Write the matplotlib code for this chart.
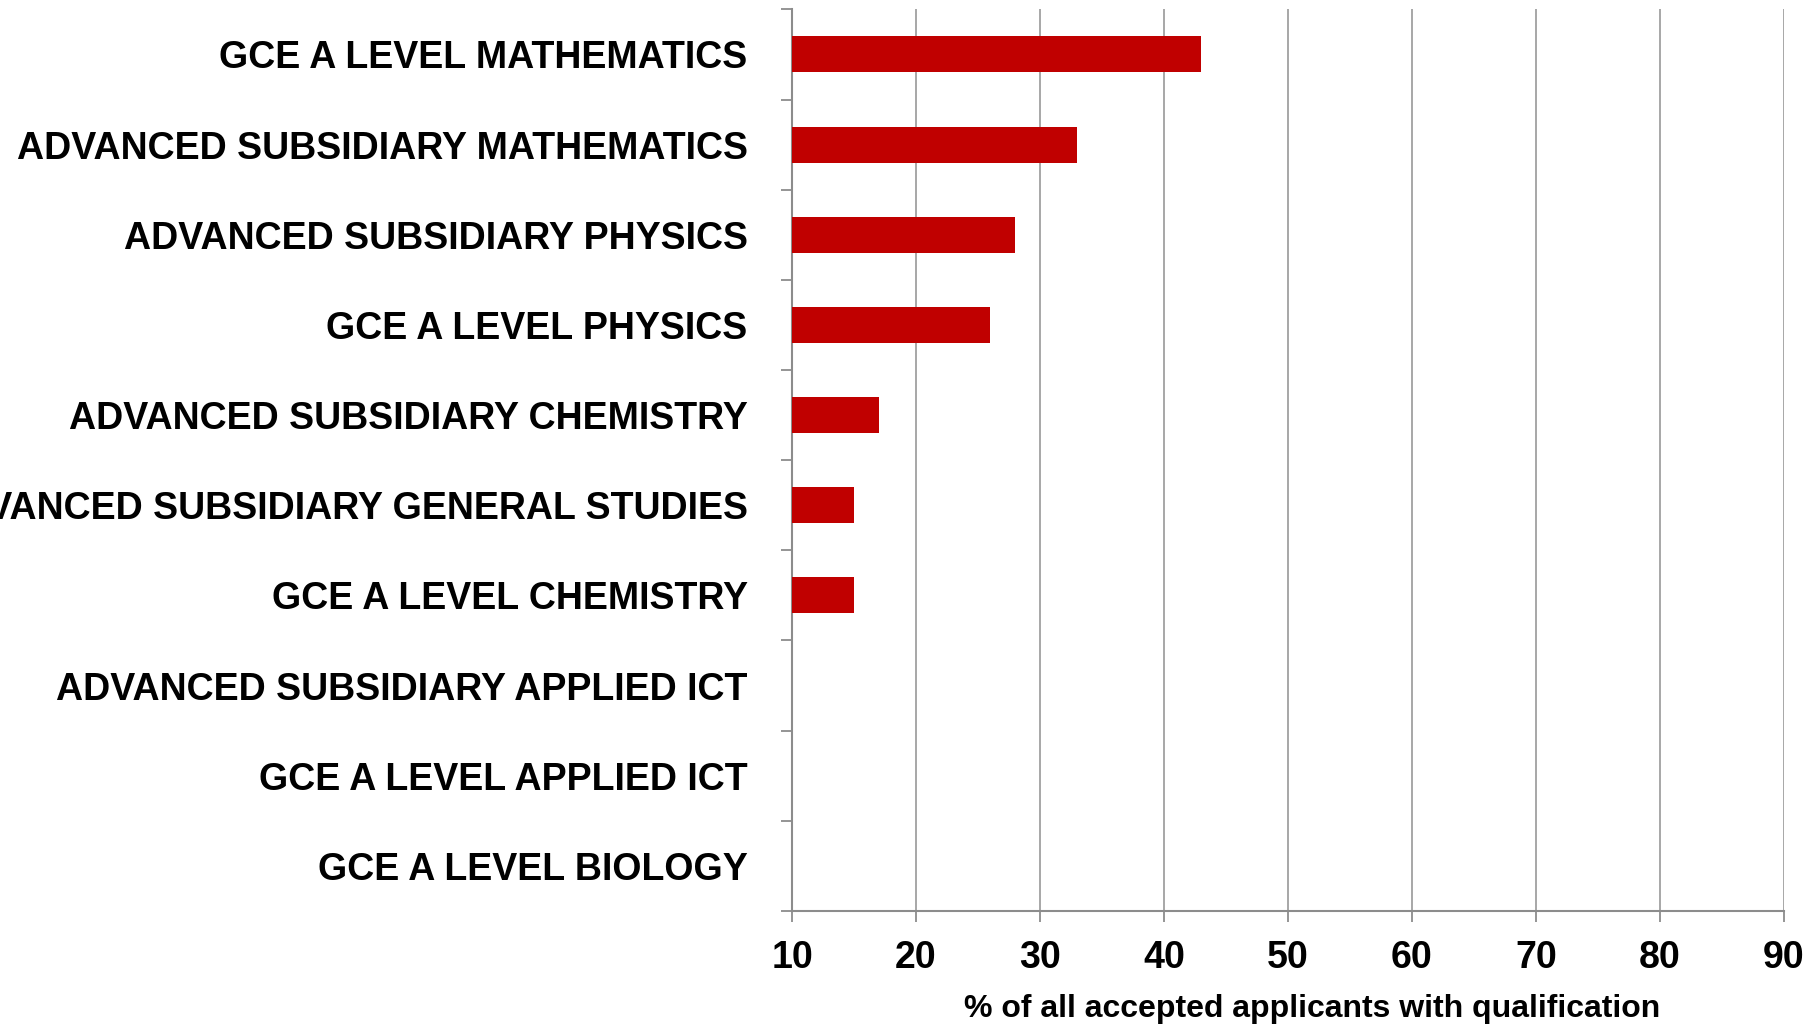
import matplotlib.pyplot as plt
import numpy as np

plt.rcParams['font.family'] = ['Liberation Sans', 'DejaVu Sans']

# Qualifications, top to bottom
subjects = [
    "GCE A LEVEL MATHEMATICS",
    "ADVANCED SUBSIDIARY MATHEMATICS",
    "ADVANCED SUBSIDIARY PHYSICS",
    "GCE A LEVEL PHYSICS",
    "ADVANCED SUBSIDIARY CHEMISTRY",
    "ADVANCED SUBSIDIARY GENERAL STUDIES",
    "GCE A LEVEL CHEMISTRY",
    "ADVANCED SUBSIDIARY APPLIED ICT",
    "GCE A LEVEL APPLIED ICT",
    "GCE A LEVEL BIOLOGY",
]
# % of accepted applicants (last three fall below the axis minimum of 10)
percent = [43, 33, 28, 26, 17, 15, 15, 0, 0, 0]
x_ticks = [10, 20, 30, 40, 50, 60, 70, 80, 90]

fig = plt.figure(figsize=(18.1, 10.26), dpi=100)
ax = fig.add_axes([0.4376, 0.1121, 0.5480, 0.8788])

y = np.arange(len(subjects))
ax.barh(y, percent, height=0.4, color="#c00000", zorder=3)

ax.set_xlim(10, 90)
ax.set_ylim(len(subjects) - 0.5, -0.5)
ax.set_xticks(x_ticks)
ax.set_xticklabels([str(t) for t in x_ticks], fontsize=27, fontweight="bold")
ax.set_yticks(y)
ax.set_yticklabels(subjects, fontsize=27, fontweight="bold")
ax.set_yticks(np.arange(len(subjects) + 1) - 0.5, minor=True)

ax.tick_params(axis="y", which="major", length=0, pad=32)
ax.tick_params(axis="y", which="minor", length=8, width=1.3, color="#8c8c8c")
ax.tick_params(axis="x", length=8, width=1.3, color="#8c8c8c", pad=13)

ax.grid(axis="x", color="#a0a0a0", linewidth=1.3, zorder=0)
for s in ["top", "right"]:
    ax.spines[s].set_visible(False)
for s in ["left", "bottom"]:
    ax.spines[s].set_color("#8c8c8c")
    ax.spines[s].set_linewidth(1.5)

ax.set_xlabel("% of all accepted applicants with qualification", fontsize=23, fontweight="bold")
ax.xaxis.set_label_coords(0.524, -0.092)

fig.savefig("out.png", dpi=100)
